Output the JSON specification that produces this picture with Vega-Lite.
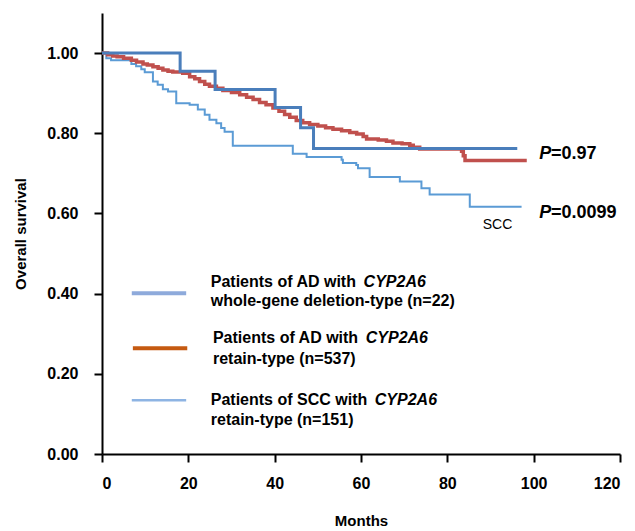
{
  "$schema": "https://vega.github.io/schema/vega-lite/v6.json",
  "autosize": {"type": "none"},
  "padding": {"left": 102, "top": 13, "right": 15, "bottom": 77},
  "width": 518,
  "height": 441,
  "background": "white",
  "config": {
    "view": {"stroke": null},
    "font": "Liberation Sans",
    "axis": {
      "grid": false,
      "domainColor": "black",
      "domainWidth": 2,
      "tickColor": "black",
      "tickWidth": 2,
      "tickSize": 8,
      "labelFont": "Liberation Sans",
      "labelFontSize": 16,
      "labelFontWeight": "bold",
      "labelColor": "black",
      "titleFont": "Liberation Sans",
      "titleFontSize": 15,
      "titleFontWeight": "bold",
      "titleColor": "black"
    }
  },
  "datasets": {
    "km": [
      {"series": "del", "month": 0, "surv": 1.0},
      {"series": "del", "month": 18.1, "surv": 0.955},
      {"series": "del", "month": 26.2, "surv": 0.909},
      {"series": "del", "month": 40.1, "surv": 0.864},
      {"series": "del", "month": 46.0, "surv": 0.814},
      {"series": "del", "month": 49.0, "surv": 0.762},
      {"series": "del", "month": 96.2, "surv": 0.762},

      {"series": "ad", "month": 0, "surv": 1.0},
      {"series": "ad", "month": 1.3, "surv": 0.996},
      {"series": "ad", "month": 2.5, "surv": 0.993},
      {"series": "ad", "month": 3.5, "surv": 0.991},
      {"series": "ad", "month": 5.0, "surv": 0.987},
      {"series": "ad", "month": 6.8, "surv": 0.982},
      {"series": "ad", "month": 8.0, "surv": 0.978},
      {"series": "ad", "month": 9.5, "surv": 0.973},
      {"series": "ad", "month": 10.5, "surv": 0.970},
      {"series": "ad", "month": 11.8, "surv": 0.966},
      {"series": "ad", "month": 13.0, "surv": 0.962},
      {"series": "ad", "month": 14.1, "surv": 0.958},
      {"series": "ad", "month": 15.3, "surv": 0.955},
      {"series": "ad", "month": 16.4, "surv": 0.953},
      {"series": "ad", "month": 18.7, "surv": 0.950},
      {"series": "ad", "month": 20.3, "surv": 0.941},
      {"series": "ad", "month": 21.5, "surv": 0.936},
      {"series": "ad", "month": 22.6, "surv": 0.929},
      {"series": "ad", "month": 23.8, "surv": 0.922},
      {"series": "ad", "month": 24.9, "surv": 0.917},
      {"series": "ad", "month": 26.5, "surv": 0.912},
      {"series": "ad", "month": 28.0, "surv": 0.907},
      {"series": "ad", "month": 30.0, "surv": 0.902},
      {"series": "ad", "month": 31.9, "surv": 0.896},
      {"series": "ad", "month": 33.5, "surv": 0.890},
      {"series": "ad", "month": 35.0, "surv": 0.884},
      {"series": "ad", "month": 36.5, "surv": 0.877},
      {"series": "ad", "month": 38.0, "surv": 0.871},
      {"series": "ad", "month": 39.6, "surv": 0.863},
      {"series": "ad", "month": 41.0, "surv": 0.855},
      {"series": "ad", "month": 42.3, "surv": 0.847},
      {"series": "ad", "month": 43.5, "surv": 0.840},
      {"series": "ad", "month": 45.0, "surv": 0.832},
      {"series": "ad", "month": 46.5, "surv": 0.826},
      {"series": "ad", "month": 48.1, "surv": 0.822},
      {"series": "ad", "month": 50.0, "surv": 0.818},
      {"series": "ad", "month": 51.8, "surv": 0.814},
      {"series": "ad", "month": 53.5, "surv": 0.810},
      {"series": "ad", "month": 55.5, "surv": 0.806},
      {"series": "ad", "month": 57.4, "surv": 0.802},
      {"series": "ad", "month": 59.0, "surv": 0.798},
      {"series": "ad", "month": 60.5, "surv": 0.792},
      {"series": "ad", "month": 61.3, "surv": 0.786},
      {"series": "ad", "month": 64.0, "surv": 0.783},
      {"series": "ad", "month": 65.9, "surv": 0.780},
      {"series": "ad", "month": 67.4, "surv": 0.776},
      {"series": "ad", "month": 69.5, "surv": 0.774},
      {"series": "ad", "month": 71.3, "surv": 0.770},
      {"series": "ad", "month": 72.1, "surv": 0.765},
      {"series": "ad", "month": 73.6, "surv": 0.761},
      {"series": "ad", "month": 83.3, "surv": 0.755},
      {"series": "ad", "month": 83.7, "surv": 0.744},
      {"series": "ad", "month": 84.1, "surv": 0.732},
      {"series": "ad", "month": 98.4, "surv": 0.732},

      {"series": "scc", "month": 0, "surv": 1.0},
      {"series": "scc", "month": 1.0, "surv": 0.987},
      {"series": "scc", "month": 2.1, "surv": 0.982},
      {"series": "scc", "month": 6.8, "surv": 0.973},
      {"series": "scc", "month": 7.9, "surv": 0.967},
      {"series": "scc", "month": 9.1, "surv": 0.960},
      {"series": "scc", "month": 9.9, "surv": 0.952},
      {"series": "scc", "month": 11.8, "surv": 0.929},
      {"series": "scc", "month": 12.9, "surv": 0.921},
      {"series": "scc", "month": 14.1, "surv": 0.910},
      {"series": "scc", "month": 15.3, "surv": 0.904},
      {"series": "scc", "month": 17.2, "surv": 0.875},
      {"series": "scc", "month": 20.3, "surv": 0.871},
      {"series": "scc", "month": 22.2, "surv": 0.859},
      {"series": "scc", "month": 23.8, "surv": 0.846},
      {"series": "scc", "month": 24.9, "surv": 0.834},
      {"series": "scc", "month": 26.5, "surv": 0.825},
      {"series": "scc", "month": 27.6, "surv": 0.813},
      {"series": "scc", "month": 28.4, "surv": 0.804},
      {"series": "scc", "month": 30.3, "surv": 0.769},
      {"series": "scc", "month": 44.2, "surv": 0.749},
      {"series": "scc", "month": 47.4, "surv": 0.741},
      {"series": "scc", "month": 55.5, "surv": 0.734},
      {"series": "scc", "month": 55.8, "surv": 0.726},
      {"series": "scc", "month": 58.9, "surv": 0.721},
      {"series": "scc", "month": 59.3, "surv": 0.713},
      {"series": "scc", "month": 62.0, "surv": 0.691},
      {"series": "scc", "month": 69.0, "surv": 0.680},
      {"series": "scc", "month": 74.0, "surv": 0.663},
      {"series": "scc", "month": 75.9, "surv": 0.647},
      {"series": "scc", "month": 85.2, "surv": 0.617},
      {"series": "scc", "month": 97.2, "surv": 0.617}
    ],
    "legendKeys": [
      {"key": "del", "m1": 6.9, "m2": 19.5, "surv": 0.401},
      {"key": "ad", "m1": 7.15, "m2": 19.75, "surv": 0.264},
      {"key": "scc", "m1": 6.9, "m2": 19.5, "surv": 0.134}
    ],
    "boldText": [
      {"text": "Patients of AD with", "month": 25.2, "surv": 0.429},
      {"text": "whole-gene deletion-type (n=22)", "month": 25.2, "surv": 0.381},
      {"text": "Patients of AD with", "month": 25.7, "surv": 0.289},
      {"text": "retain-type (n=537)", "month": 25.7, "surv": 0.237},
      {"text": "Patients of SCC with", "month": 25.2, "surv": 0.135},
      {"text": "retain-type (n=151)", "month": 25.2, "surv": 0.084}
    ],
    "italicText": [
      {"text": "CYP2A6", "month": 60.6, "surv": 0.429},
      {"text": "CYP2A6", "month": 61.1, "surv": 0.289},
      {"text": "CYP2A6", "month": 63.2, "surv": 0.135}
    ],
    "pItalic": [
      {"text": "P", "month": 101.3, "surv": 0.749},
      {"text": "P", "month": 101.3, "surv": 0.601}
    ],
    "pValue": [
      {"text": "=0.97", "month": 104.0, "surv": 0.749},
      {"text": "=0.0099", "month": 104.0, "surv": 0.601}
    ],
    "groupLabel": [
      {"text": "SCC", "month": 88.2, "surv": 0.570}
    ]
  },
  "layer": [
    {
      "data": {"name": "km"},
      "transform": [{"filter": "datum.series === 'scc'"}],
      "mark": {"type": "line", "interpolate": "step-after", "color": "#5b9bd5", "strokeWidth": 2},
      "encoding": {
        "x": {"field": "month", "type": "quantitative",
              "scale": {"domain": [0, 120], "nice": false, "zero": true},
              "axis": {"values": [0, 20, 40, 60, 80, 100, 120], "title": "Months", "labelPadding": 13, "titlePadding": 22}},
        "y": {"field": "surv", "type": "quantitative",
              "scale": {"domain": [0, 1.1], "nice": false},
              "axis": {"values": [0, 0.2, 0.4, 0.6, 0.8, 1.0], "format": ".2f", "title": "Overall survival", "labelPadding": 16, "titlePadding": 18}}
      }
    },
    {
      "data": {"name": "km"},
      "transform": [{"filter": "datum.series === 'ad'"}],
      "mark": {"type": "line", "interpolate": "step-after", "color": "#c0504d", "strokeWidth": 3.5},
      "encoding": {
        "x": {"field": "month", "type": "quantitative"},
        "y": {"field": "surv", "type": "quantitative"}
      }
    },
    {
      "data": {"name": "km"},
      "transform": [{"filter": "datum.series === 'del'"}],
      "mark": {"type": "line", "interpolate": "step-after", "color": "#4a7ebb", "strokeWidth": 3},
      "encoding": {
        "x": {"field": "month", "type": "quantitative"},
        "y": {"field": "surv", "type": "quantitative"}
      }
    },
    {
      "data": {"name": "legendKeys"},
      "transform": [{"filter": "datum.key === 'del'"}],
      "mark": {"type": "rule", "color": "#8eaadb", "strokeWidth": 4},
      "encoding": {
        "x": {"field": "m1", "type": "quantitative"},
        "x2": {"field": "m2"},
        "y": {"field": "surv", "type": "quantitative"}
      }
    },
    {
      "data": {"name": "legendKeys"},
      "transform": [{"filter": "datum.key === 'ad'"}],
      "mark": {"type": "rule", "color": "#c55a11", "strokeWidth": 4},
      "encoding": {
        "x": {"field": "m1", "type": "quantitative"},
        "x2": {"field": "m2"},
        "y": {"field": "surv", "type": "quantitative"}
      }
    },
    {
      "data": {"name": "legendKeys"},
      "transform": [{"filter": "datum.key === 'scc'"}],
      "mark": {"type": "rule", "color": "#8eb4e3", "strokeWidth": 2.5},
      "encoding": {
        "x": {"field": "m1", "type": "quantitative"},
        "x2": {"field": "m2"},
        "y": {"field": "surv", "type": "quantitative"}
      }
    },
    {
      "data": {"name": "boldText"},
      "mark": {"type": "text", "align": "left", "baseline": "middle", "font": "Liberation Sans", "fontSize": 16, "fontWeight": "bold", "color": "black"},
      "encoding": {
        "x": {"field": "month", "type": "quantitative"},
        "y": {"field": "surv", "type": "quantitative"},
        "text": {"field": "text"}
      }
    },
    {
      "data": {"name": "italicText"},
      "mark": {"type": "text", "align": "left", "baseline": "middle", "font": "Liberation Sans", "fontSize": 16, "fontWeight": "bold", "fontStyle": "italic", "color": "black"},
      "encoding": {
        "x": {"field": "month", "type": "quantitative"},
        "y": {"field": "surv", "type": "quantitative"},
        "text": {"field": "text"}
      }
    },
    {
      "data": {"name": "pItalic"},
      "mark": {"type": "text", "align": "left", "baseline": "middle", "font": "Liberation Sans", "fontSize": 18, "fontWeight": "bold", "fontStyle": "italic", "color": "black"},
      "encoding": {
        "x": {"field": "month", "type": "quantitative"},
        "y": {"field": "surv", "type": "quantitative"},
        "text": {"field": "text"}
      }
    },
    {
      "data": {"name": "pValue"},
      "mark": {"type": "text", "align": "left", "baseline": "middle", "font": "Liberation Sans", "fontSize": 18, "fontWeight": "bold", "color": "black"},
      "encoding": {
        "x": {"field": "month", "type": "quantitative"},
        "y": {"field": "surv", "type": "quantitative"},
        "text": {"field": "text"}
      }
    },
    {
      "data": {"name": "groupLabel"},
      "mark": {"type": "text", "align": "left", "baseline": "middle", "font": "Liberation Sans", "fontSize": 14, "color": "black"},
      "encoding": {
        "x": {"field": "month", "type": "quantitative"},
        "y": {"field": "surv", "type": "quantitative"},
        "text": {"field": "text"}
      }
    }
  ]
}
